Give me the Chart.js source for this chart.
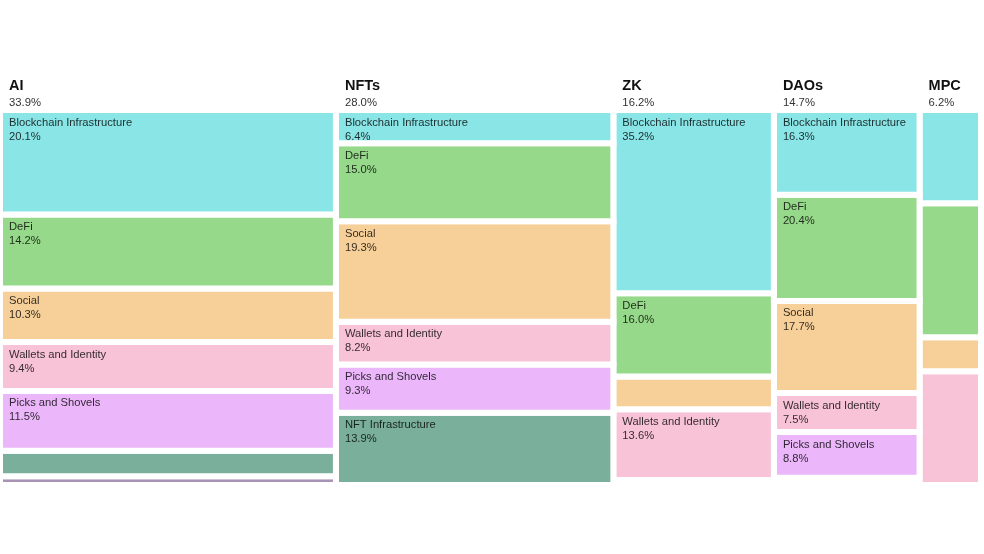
<!DOCTYPE html>
<html lang="en">
<head>
    <meta charset="UTF-8">
    <title>Sector treemap</title>
    <script src="https://cdn.jsdelivr.net/npm/chart.js"></script>
    <style>
        html, body { margin: 0; padding: 0; background: #fff; }
        #wrap { width: 984px; height: 554px; }
    </style>
</head>
<body>
    <div id="wrap"><canvas id="treeChart"></canvas></div>

    <script>
        // Sectors (columns) and their share of the total
        const sectors = ['AI', 'NFTs', 'ZK', 'DAOs', 'MPC'];
        const sectorShares = [33.9, 28.0, 16.2, 14.7, 6.2];

        // Sub-categories (stacked inside each column, top to bottom)
        const categories = ['Blockchain Infrastructure', 'DeFi', 'Social', 'Wallets and Identity',
                            'Picks and Shovels', 'NFT Infrastructure', 'Other'];
        const categoryColors = ['#8ae5e7', '#97d98a', '#f6cf99', '#f8c3d7', '#ebb7fa', '#7ab09b', '#a993b4'];

        // Values per sector, same order as categories (0 = not present)
        const aiValues   = [20.1, 14.2, 10.3, 9.4, 11.5, 4.9, 3.0];
        const nftsValues = [6.4, 15.0, 19.3, 8.2, 9.3, 13.9, 0];
        const zkValues   = [35.2, 16.0, 6.3, 13.6, 0, 0, 0];
        const daosValues = [16.3, 20.4, 17.7, 7.5, 8.8, 0, 0];
        const mpcValues  = [17.9, 25.8, 6.5, 25.0, 0, 0, 0];
        const sectorValues = [aiValues, nftsValues, zkValues, daosValues, mpcValues];

        const GAP = 6;
        const FONT = '"Liberation Sans", Arial, sans-serif';

        // build one closed rectangle (line dataset filled as a shape) per cell
        const datasets = [];
        const cells = [];
        let xStart = 0;
        sectors.forEach((sector, s) => {
            const x0 = xStart, x1 = xStart + sectorShares[s];
            let yStart = 0;
            sectorValues[s].forEach((v, c) => {
                if (!v) return;
                const y0 = yStart, y1 = yStart + v;
                datasets.push({
                    label: sector + ' - ' + categories[c],
                    data: [
                        {x: x0, y: y0}, {x: x1, y: y0}, {x: x1, y: y1},
                        {x: x0, y: y1}, {x: x0, y: y0}
                    ],
                    showLine: true,
                    fill: 'shape',
                    backgroundColor: categoryColors[c],
                    borderColor: '#ffffff',
                    borderWidth: GAP,
                    borderJoinStyle: 'miter',
                    pointRadius: 0,
                    pointHoverRadius: 0
                });
                cells.push({x0, x1, y0, y1, name: categories[c], value: v});
                yStart = y1;
            });
            xStart = x1;
        });

        const labelPlugin = {
            id: 'treeLabels',
            afterDatasetsDraw(chart) {
                const {ctx, scales: {x, y}} = chart;
                ctx.save();
                ctx.textAlign = 'left';
                ctx.textBaseline = 'alphabetic';

                // column headers
                let cum = 0;
                sectors.forEach((sector, s) => {
                    const px = x.getPixelForValue(cum) + 9;
                    ctx.fillStyle = '#111111';
                    ctx.font = 'bold 14.5px ' + FONT;
                    ctx.fillText(sector, px, 90);
                    ctx.fillStyle = '#333333';
                    ctx.font = '11.3px ' + FONT;
                    ctx.fillText(sectorShares[s].toFixed(1) + '%', px, 106);
                    cum += sectorShares[s];
                });

                // cell labels
                ctx.beginPath();
                ctx.rect(chart.chartArea.left, chart.chartArea.top,
                         chart.chartArea.right - chart.chartArea.left,
                         chart.chartArea.bottom - chart.chartArea.top);
                ctx.clip();
                cells.forEach(cell => {
                    const left = x.getPixelForValue(cell.x0);
                    const right = x.getPixelForValue(cell.x1);
                    const top = y.getPixelForValue(cell.y0);
                    const bottom = y.getPixelForValue(cell.y1);
                    if (right - left - GAP < 80 || bottom - top - GAP < 27) return;
                    ctx.fillStyle = 'rgba(0, 0, 0, 0.8)';
                    ctx.font = '11.2px ' + FONT;
                    ctx.fillText(cell.name, left + 9, top + 15.5);
                    ctx.fillText(cell.value.toFixed(1) + '%', left + 9, top + 29.5);
                });
                ctx.restore();
            }
        };

        new Chart(document.getElementById('treeChart'), {
            type: 'scatter',
            data: { datasets },
            options: {
                responsive: true,
                maintainAspectRatio: false,
                animation: false,
                layout: { padding: { left: 0, right: 3, top: 110, bottom: 72 } },
                scales: {
                    x: { type: 'linear', display: false, min: 0, max: 99 },
                    y: { type: 'linear', display: false, min: 0, max: 71.5, reverse: true }
                },
                plugins: {
                    legend: { display: false },
                    tooltip: { enabled: false }
                }
            },
            plugins: [labelPlugin]
        });
    </script>
</body>
</html>
